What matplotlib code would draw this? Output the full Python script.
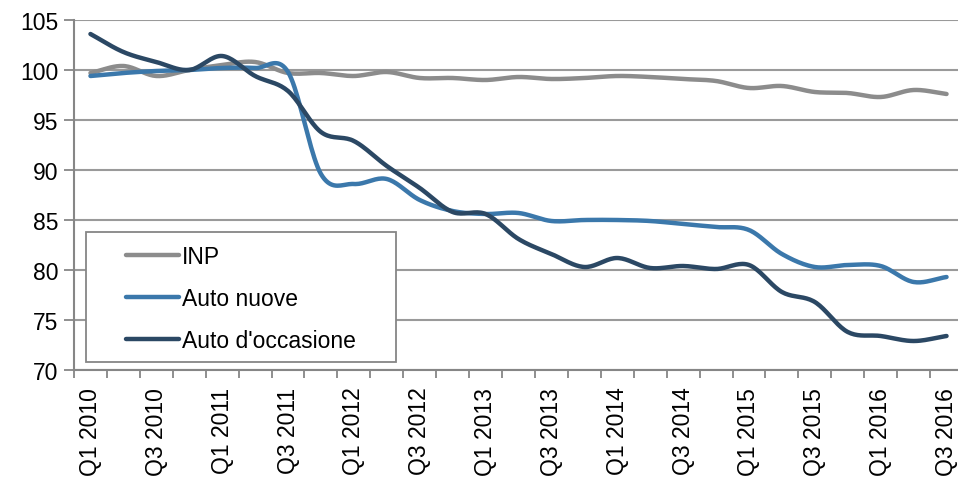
import matplotlib

matplotlib.use("Agg")
import matplotlib.pyplot as plt
import numpy as np
from matplotlib.patches import Rectangle

# quarters Q1 2010 .. Q3 2016
quarters = [
    "Q{0} {1}".format(q, y) for y in range(2010, 2017) for q in (1, 2, 3, 4)
][:27]

inp = [99.7, 100.4, 99.4, 100.0, 100.5, 100.8, 99.7, 99.7, 99.4, 99.8,
       99.2, 99.2, 99.0, 99.3, 99.1, 99.2, 99.4, 99.3, 99.1, 98.9,
       98.2, 98.4, 97.8, 97.7, 97.3, 98.0, 97.6]
auto_nuove = [99.4, 99.7, 99.9, 100.0, 100.2, 100.2, 99.8, 89.6, 88.6, 89.1,
              87.0, 85.9, 85.6, 85.7, 84.9, 85.0, 85.0, 84.9, 84.6, 84.3,
              84.0, 81.6, 80.3, 80.5, 80.4, 78.8, 79.3]
auto_occasione = [103.6, 101.8, 100.8, 100.0, 101.4, 99.4, 97.9, 93.8, 92.9, 90.4,
                  88.2, 85.8, 85.6, 83.1, 81.6, 80.3, 81.2, 80.2, 80.4, 80.1,
                  80.5, 77.8, 76.8, 73.8, 73.4, 72.9, 73.4]

series = [
    ("INP", inp, "#8c8c8c"),
    ("Auto nuove", auto_nuove, "#3b78ab"),
    ("Auto d'occasione", auto_occasione, "#2b4864"),
]


def smooth(y, n=20):
    """Catmull-Rom curve through the points (like a smoothed Excel line)."""
    y = np.asarray(y, dtype=float)
    x = np.arange(len(y), dtype=float)
    px = np.concatenate([[2 * x[0] - x[1]], x, [2 * x[-1] - x[-2]]])
    py = np.concatenate([[2 * y[0] - y[1]], y, [2 * y[-1] - y[-2]]])
    t = np.linspace(0, 1, n, endpoint=False)
    xs, ys = [], []
    for i in range(1, len(px) - 2):
        for p, out in ((px, xs), (py, ys)):
            p0, p1, p2, p3 = p[i - 1], p[i], p[i + 1], p[i + 2]
            out.extend(
                0.5 * ((2 * p1) + (-p0 + p2) * t
                       + (2 * p0 - 5 * p1 + 4 * p2 - p3) * t ** 2
                       + (-p0 + 3 * p1 - 3 * p2 + p3) * t ** 3)
            )
    xs.append(x[-1])
    ys.append(y[-1])
    return np.array(xs), np.array(ys)


plt.rcParams["font.family"] = ["Liberation Sans", "DejaVu Sans"]
plt.rcParams["font.size"] = 16.5

W, H = 958, 485
fig = plt.figure(figsize=(W / 100, H / 100), dpi=100)
ax = fig.add_axes([74 / W, 114 / H, 889 / W, 350 / H])

gray = "#868686"
for name, vals, color in series:
    xs, ys = smooth(vals)
    ax.plot(xs, ys, color=color, lw=3.2, label=name, zorder=4,
            solid_capstyle="round")

ax.set_xlim(-0.5, 26.5)
ax.set_ylim(70, 105)
ax.set_yticks(np.arange(70, 106, 5))
ax.set_xticks(np.arange(0, 27, 2))
ax.set_xticklabels(quarters[::2], rotation=90)
ax.set_xticks(np.arange(-0.5, 27, 1), minor=True)
ax.tick_params(axis="x", which="major", length=0, pad=12)
ax.tick_params(axis="x", which="minor", length=6, width=1.3, color=gray)
ax.tick_params(axis="y", length=7, width=1.3, color=gray, pad=4)

ax.grid(axis="y", color="#9a9a9a", lw=1.5, zorder=1)
ax.set_axisbelow(True)
for side in ("top", "right"):
    ax.spines[side].set_visible(False)
for side in ("left", "bottom"):
    ax.spines[side].set_color(gray)
    ax.spines[side].set_linewidth(1.5)

# legend box
ax.add_patch(Rectangle((12 / 889, 8 / 350), 310 / 889, 130 / 350,
                       transform=ax.transAxes, facecolor="white",
                       edgecolor=gray, lw=1.3, zorder=3))
ax.legend(loc="upper left", bbox_to_anchor=(52 / 889, 125 / 350),
          frameon=False, handlelength=2.3, handletextpad=0.15,
          labelspacing=0.83, borderpad=0, borderaxespad=0)

fig.savefig("out.png", dpi=100)
